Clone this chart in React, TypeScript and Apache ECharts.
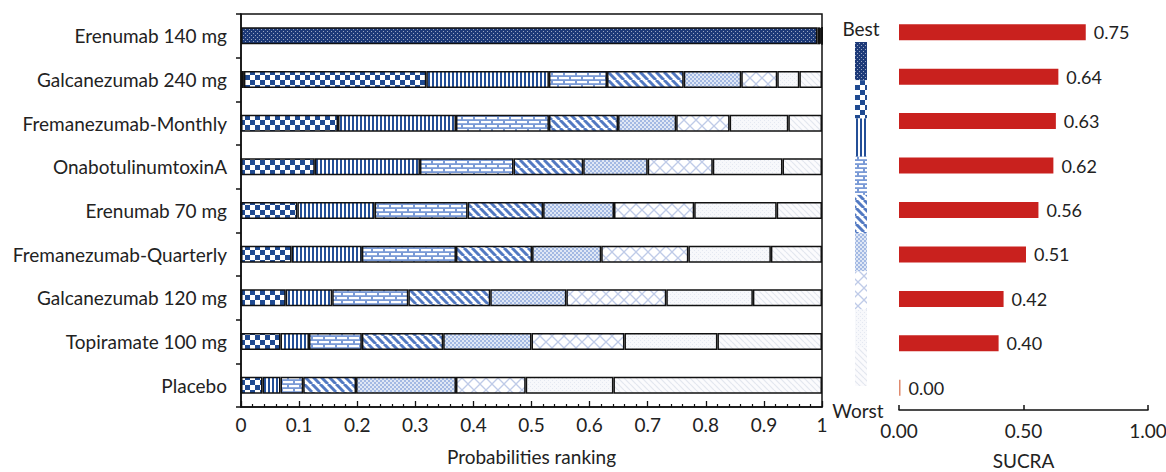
import React, { useEffect, useRef } from "react";
import * as echarts from "echarts";

const categories = [
  "Erenumab 140 mg",
  "Galcanezumab 240 mg",
  "Fremanezumab-Monthly",
  "OnabotulinumtoxinA",
  "Erenumab 70 mg",
  "Fremanezumab-Quarterly",
  "Galcanezumab 120 mg",
  "Topiramate 100 mg",
  "Placebo",
];

// probability of each rank (rank 1 .. rank 9) per treatment
const erenumab140 = [0.992, 0.005, 0.002, 0.001, 0, 0, 0, 0, 0];
const galcanezumab240 = [0.005, 0.314, 0.211, 0.1, 0.132, 0.099, 0.062, 0.038, 0.039];
const fremanezumabMonthly = [0, 0.167, 0.203, 0.16, 0.119, 0.1, 0.092, 0.101, 0.058];
const onabotulinumtoxinA = [0, 0.127, 0.181, 0.161, 0.12, 0.111, 0.112, 0.12, 0.068];
const erenumab70 = [0, 0.097, 0.133, 0.16, 0.13, 0.122, 0.138, 0.142, 0.078];
const fremanezumabQuarterly = [0, 0.087, 0.121, 0.162, 0.131, 0.119, 0.15, 0.142, 0.088];
const galcanezumab120 = [0, 0.077, 0.08, 0.131, 0.141, 0.131, 0.172, 0.149, 0.119];
const topiramate100 = [0, 0.068, 0.049, 0.091, 0.14, 0.152, 0.16, 0.16, 0.18];
const placebo = [0, 0.037, 0.031, 0.039, 0.091, 0.172, 0.12, 0.151, 0.359];

const rankTable = [
  erenumab140,
  galcanezumab240,
  fremanezumabMonthly,
  onabotulinumtoxinA,
  erenumab70,
  fremanezumabQuarterly,
  galcanezumab120,
  topiramate100,
  placebo,
];

const sucra = [0.75, 0.64, 0.63, 0.62, 0.56, 0.51, 0.42, 0.4, 0.0];

const xTicks = [0, 0.1, 0.2, 0.3, 0.4, 0.5, 0.6, 0.7, 0.8, 0.9, 1];
const sucraTicks = [0, 0.5, 1];

const FONT = "Lato";
const TEXT = "#222";

function makePattern(w: number, h: number, draw: (ctx: CanvasRenderingContext2D) => void) {
  const c = document.createElement("canvas");
  c.width = w;
  c.height = h;
  const ctx = c.getContext("2d") as CanvasRenderingContext2D;
  draw(ctx);
  return { image: c.toDataURL(), repeat: "repeat", imageWidth: w, imageHeight: h };
}

function diag(ctx: CanvasRenderingContext2D, size: number, color: string, lw: number, back: boolean) {
  ctx.strokeStyle = color;
  ctx.lineWidth = lw;
  for (let k = -2; k <= 2; k++) {
    ctx.beginPath();
    if (back) {
      ctx.moveTo(k * size, 0);
      ctx.lineTo(k * size + size, size);
    } else {
      ctx.moveTo(k * size, size);
      ctx.lineTo(k * size + size, 0);
    }
    ctx.stroke();
  }
}

function buildPatterns() {
  const p1 = makePattern(4, 4, (ctx) => {
    ctx.fillStyle = "#1d3a78";
    ctx.fillRect(0, 0, 4, 4);
    ctx.fillStyle = "rgba(255,255,255,0.55)";
    ctx.fillRect(1, 1, 1, 1);
    ctx.fillRect(3, 3, 1, 1);
  });
  const p2 = makePattern(10, 10, (ctx) => {
    ctx.fillStyle = "#ffffff";
    ctx.fillRect(0, 0, 10, 10);
    ctx.fillStyle = "#1f4a91";
    ctx.fillRect(0, 0, 5, 5);
    ctx.fillRect(5, 5, 5, 5);
  });
  const p3 = makePattern(4, 4, (ctx) => {
    ctx.fillStyle = "#ffffff";
    ctx.fillRect(0, 0, 4, 4);
    ctx.fillStyle = "#244f97";
    ctx.fillRect(0, 0, 2, 4);
  });
  const p4 = makePattern(12, 8, (ctx) => {
    ctx.fillStyle = "#7a9ad6";
    ctx.fillRect(0, 0, 12, 8);
    ctx.fillStyle = "#ffffff";
    ctx.fillRect(1, 1, 10, 2.2);
    ctx.fillRect(7, 5, 10, 2.2);
    ctx.fillRect(-5, 5, 10, 2.2);
  });
  const p5 = makePattern(8, 8, (ctx) => {
    ctx.fillStyle = "#ffffff";
    ctx.fillRect(0, 0, 8, 8);
    diag(ctx, 8, "#5279c2", 3, true);
  });
  const p6 = makePattern(4, 4, (ctx) => {
    ctx.fillStyle = "#dfe7f5";
    ctx.fillRect(0, 0, 4, 4);
    ctx.fillStyle = "#a3b9e3";
    ctx.fillRect(0, 0, 2, 2);
    ctx.fillRect(2, 2, 2, 2);
  });
  const p7 = makePattern(12, 12, (ctx) => {
    ctx.fillStyle = "#ffffff";
    ctx.fillRect(0, 0, 12, 12);
    diag(ctx, 12, "#bfcbe8", 1.3, true);
    diag(ctx, 12, "#bfcbe8", 1.3, false);
  });
  const p8 = makePattern(4, 4, (ctx) => {
    ctx.fillStyle = "#f7f8fb";
    ctx.fillRect(0, 0, 4, 4);
    ctx.fillStyle = "#e4e8f1";
    ctx.fillRect(0, 0, 1, 1);
    ctx.fillRect(2, 2, 1, 1);
  });
  const p9 = makePattern(6, 6, (ctx) => {
    ctx.fillStyle = "#fbfbfd";
    ctx.fillRect(0, 0, 6, 6);
    diag(ctx, 6, "#e3e7ef", 1.2, true);
  });
  return [p1, p2, p3, p4, p5, p6, p7, p8, p9];
}

export default function App() {
  const ref = useRef<HTMLDivElement>(null);

  useEffect(() => {
    if (!ref.current) return;
    const chart = echarts.init(ref.current, null, { renderer: "svg" });
    const patterns = buildPatterns();

    const rankSeries = patterns.map((pat, r) => ({
      name: "Rank " + (r + 1),
      type: "bar",
      stack: "rank",
      xAxisIndex: 0,
      yAxisIndex: 0,
      barWidth: 17,
      data: rankTable.map((row) => row[r]),
      itemStyle: { color: pat, borderColor: "#111", borderWidth: 1.5 },
      emphasis: { disabled: true },
    }));

    const stripTop = 42;
    const stripBottom = 386;
    const cellH = (stripBottom - stripTop) / patterns.length;
    const strip = patterns.map((pat, i) => ({
      type: "rect",
      shape: { x: 855, y: stripTop + i * cellH, width: 12, height: cellH },
      style: { fill: pat },
      silent: true,
    }));

    const option: any = {
      animation: false,
      textStyle: { fontFamily: FONT, color: TEXT },
      grid: [
        {
          left: 241,
          width: 581,
          top: 14,
          bottom: 65,
          containLabel: false,
          outerBoundsMode: "none",
          show: true,
          borderColor: "#111",
          borderWidth: 1.5,
          backgroundColor: "transparent",
        },
        { left: 899, width: 249, top: 10, bottom: 62, containLabel: false, outerBoundsMode: "none" },
      ],
      xAxis: [
        {
          type: "value",
          gridIndex: 0,
          min: xTicks[0],
          max: xTicks[xTicks.length - 1],
          interval: 0.1,
          splitLine: { show: false },
          axisLine: { show: true, lineStyle: { color: "#111", width: 1.5 } },
          axisTick: { show: true, inside: true, length: 6, lineStyle: { color: "#111", width: 1.3 } },
          minorTick: { show: true, splitNumber: 5, length: 3, lineStyle: { color: "#111", width: 1.2 } },
          axisLabel: {
            fontSize: 19,
            fontFamily: FONT,
            color: TEXT,
            margin: 8,
            formatter: (v: number) => String(Math.round(v * 10) / 10),
          },
          name: "Probabilities ranking",
          nameLocation: "middle",
          nameGap: 40,
          nameTextStyle: { fontSize: 19, fontFamily: FONT, color: TEXT },
        },
        {
          type: "value",
          gridIndex: 1,
          min: sucraTicks[0],
          max: sucraTicks[sucraTicks.length - 1],
          interval: 0.5,
          splitLine: { show: false },
          axisLine: { show: true, lineStyle: { color: "#111", width: 1.5 } },
          axisTick: { show: true, inside: true, length: 5, lineStyle: { color: "#111", width: 1.5 } },
          axisLabel: {
            fontSize: 19,
            fontFamily: FONT,
            color: TEXT,
            margin: 11,
            formatter: (v: number) => v.toFixed(2),
          },
          name: "SUCRA",
          nameLocation: "middle",
          nameGap: 41,
          nameTextStyle: { fontSize: 19, fontFamily: FONT, color: TEXT },
        },
      ],
      yAxis: [
        {
          type: "category",
          gridIndex: 0,
          inverse: true,
          data: categories,
          axisLine: { show: true, lineStyle: { color: "#111", width: 1.5 } },
          axisTick: { show: true, inside: false, length: 5, lineStyle: { color: "#111", width: 1.5 } },
          axisLabel: { fontSize: 19, fontFamily: FONT, color: TEXT, margin: 14 },
        },
        {
          type: "category",
          gridIndex: 1,
          inverse: true,
          data: categories,
          axisLine: { show: false },
          axisTick: { show: false },
          axisLabel: { show: false },
        },
      ],
      series: [
        ...rankSeries,
        {
          name: "SUCRA",
          type: "bar",
          xAxisIndex: 1,
          yAxisIndex: 1,
          barWidth: 16,
          barMinHeight: 1.5,
          data: sucra,
          itemStyle: {
            color: (p: any) => (Number(p.value) > 0 ? "#c9211e" : "#e08a6e"),
          },
          label: {
            show: true,
            position: "right",
            distance: 8,
            fontSize: 18,
            fontFamily: FONT,
            color: TEXT,
            formatter: (p: any) => Number(p.value).toFixed(2),
          },
          emphasis: { disabled: true },
        },
      ],
      graphic: [
        ...strip,
        {
          type: "text",
          x: 861,
          y: 28,
          style: { text: "Best", fontSize: 19, fontFamily: FONT, fill: TEXT, align: "center", verticalAlign: "middle" },
        },
        {
          type: "text",
          x: 858,
          y: 410,
          style: { text: "Worst", fontSize: 19, fontFamily: FONT, fill: TEXT, align: "center", verticalAlign: "middle" },
        },
      ],
    };

    chart.setOption(option);
    return () => chart.dispose();
  }, []);

  return (
    <div
      ref={ref}
      style={{ position: "fixed", left: 0, top: 0, width: 1166, height: 472, background: "#fff" }}
    />
  );
}
